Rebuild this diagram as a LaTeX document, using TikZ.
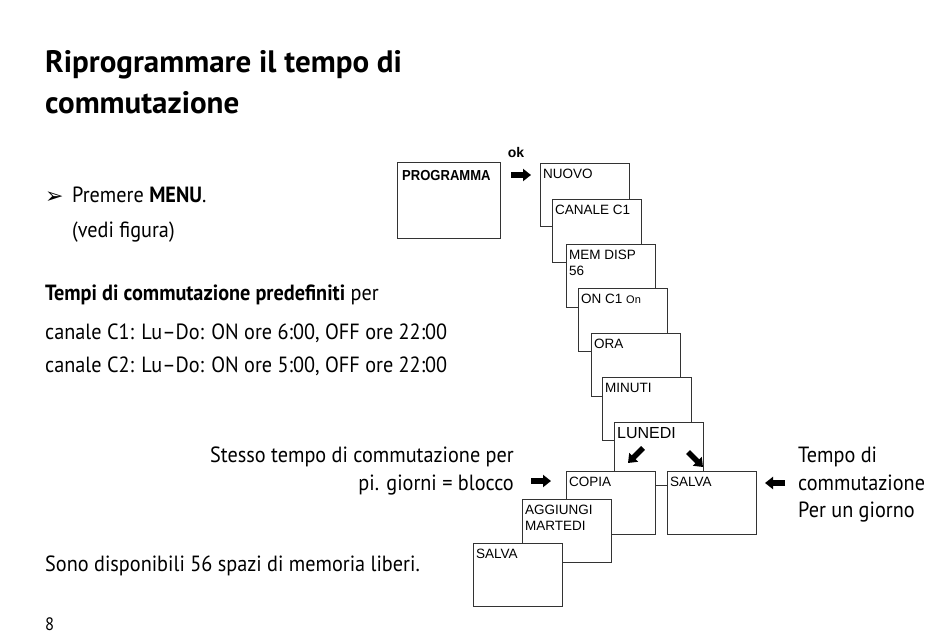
\documentclass[tikz,border=0pt]{standalone}
\usepackage{fontspec}
\setmainfont{PT Sans}
\newfontfamily\bodyfont{PT Sans}[FakeStretch=0.92, Ligatures=TeX]
\newfontfamily\lcdfont{Liberation Sans}
\newfontfamily\dingfont{DejaVu Sans}
\usepackage{graphicx}
\usetikzlibrary{arrows.meta}

\tikzset{
  screen/.style={draw=black!80, line width=0.9pt, fill=white, minimum width=89pt, minimum height=63pt, anchor=north west, inner sep=0pt},
  scrtext/.style={anchor=north west, inner xsep=3pt, inner ysep=6pt, font=\lcdfont\fontsize{13.5}{16}\selectfont, align=left},
  ptr/.style={line width=5.5pt, -{Triangle[length=8pt,width=12pt]}},
  body/.style={anchor=base west, inner sep=0pt, font=\bodyfont\fontsize{22}{26}\selectfont},
  heading/.style={anchor=base west, inner sep=0pt, font=\bfseries\fontsize{31}{37}\selectfont},
}

\begin{document}
\begin{tikzpicture}[x=1pt, y=-1pt]
  \useasboundingbox (0,0) rectangle (950,634);

  % Left -- text column
  \node[heading] (title1) at (45,72) {Riprogrammare il tempo di};
  \node[heading] (title2) at (45,113) {commutazione};
  \node[anchor=base west, inner sep=0pt, font=\dingfont\fontsize{22}{24}\selectfont] (bullet) at (45,203) {➢};
  \node[body] (menu) at (72,202) {Premere \textbf{MENU}.};
  \node[body] (vedi) at (72,237) {(vedi figura)};
  \node[body] (preset) at (45,300) {\textbf{Tempi di commutazione predefiniti} per};
  \node[body] (chA) at (45,339) {canale C1: Lu–Do: ON ore 6:00, OFF ore 22:00};
  \node[body] (chB) at (45,372) {canale C2: Lu–Do: ON ore 5:00, OFF ore 22:00};
  \node[body] (spazi) at (45,571) {Sono disponibili 56 spazi di memoria liberi.};
  \node[anchor=base west, inner sep=0pt, font=\bodyfont\fontsize{18}{20}\selectfont] (page) at (45,630) {8};

  % Right -- display sequence
  \node[screen, minimum width=103pt, minimum height=76pt,
        label={[anchor=north west, inner xsep=5pt, inner ysep=8pt, font=\lcdfont\bfseries\fontsize{14.5}{16}\selectfont]north west:\scalebox{0.9}[1]{PROGRAMMA}}] (prog) at (397,162) {};
  \node[font=\lcdfont\bfseries\fontsize{14}{16}\selectfont, inner sep=0pt] (ok) at (516,152) {ok};
  \node[screen, label={[scrtext]north west:NUOVO}] (nuovo) at (540,163) {};
  \node[screen, label={[scrtext]north west:CANALE C1}] (canale) at (552,199) {};
  \node[screen, label={[scrtext]north west:MEM DISP\\56}] (memdisp) at (566,244) {};
  \node[screen, label={[scrtext]north west:ON C1 {\fontsize{11}{12}\selectfont On}}] (onC) at (578,288) {};
  \node[screen, label={[scrtext]north west:ORA}] (ora) at (591,333) {};
  \node[screen, label={[scrtext]north west:MINUTI}] (minuti) at (602,377) {};
  \node[screen, label={[scrtext, font=\lcdfont\fontsize{16}{18}\selectfont, inner ysep=5pt]north west:LUNEDI}] (lunedi) at (614,422) {};
  \node[screen, label={[scrtext]north west:COPIA}] (copia) at (566,471) {};
  \node[screen, label={[scrtext]north west:SALVA}] (salvaR) at (667,471) {};
  \node[screen, label={[scrtext]north west:AGGIUNGI\\MARTEDI}] (aggiungi) at (522,499) {};
  \node[screen, label={[scrtext]north west:SALVA}] (salvaL) at (473,543) {};

  % pointers
  \coordinate (okS) at (511,175);  \coordinate (okE) at (531,175);
  \coordinate (luA) at (643,448);  \coordinate (luB) at (628,463);
  \coordinate (luC) at (688,452);  \coordinate (luD) at (703,467);
  \coordinate (blS) at (531,481);  \coordinate (blE) at (551,481);
  \coordinate (dyS) at (785,483);  \coordinate (dyE) at (765,483);
  \draw[ptr] (okS) -- (okE);
  \draw[ptr] (luA) -- (luB);
  \draw[ptr] (luC) -- (luD);
  \draw[ptr] (blS) -- (blE);
  \draw[ptr] (dyS) -- (dyE);

  % side notes
  \node[body, anchor=base east] (blocco1) at (514,462) {Stesso tempo di commutazione per};
  \node[body, anchor=base east] (blocco2) at (514,490) {pi. giorni = blocco};
  \node[body] (giorno1) at (798,462) {Tempo di};
  \node[body] (giorno2) at (798,490) {commutazione};
  \node[body] (giorno3) at (798,517) {Per un giorno};
\end{tikzpicture}
\end{document}
